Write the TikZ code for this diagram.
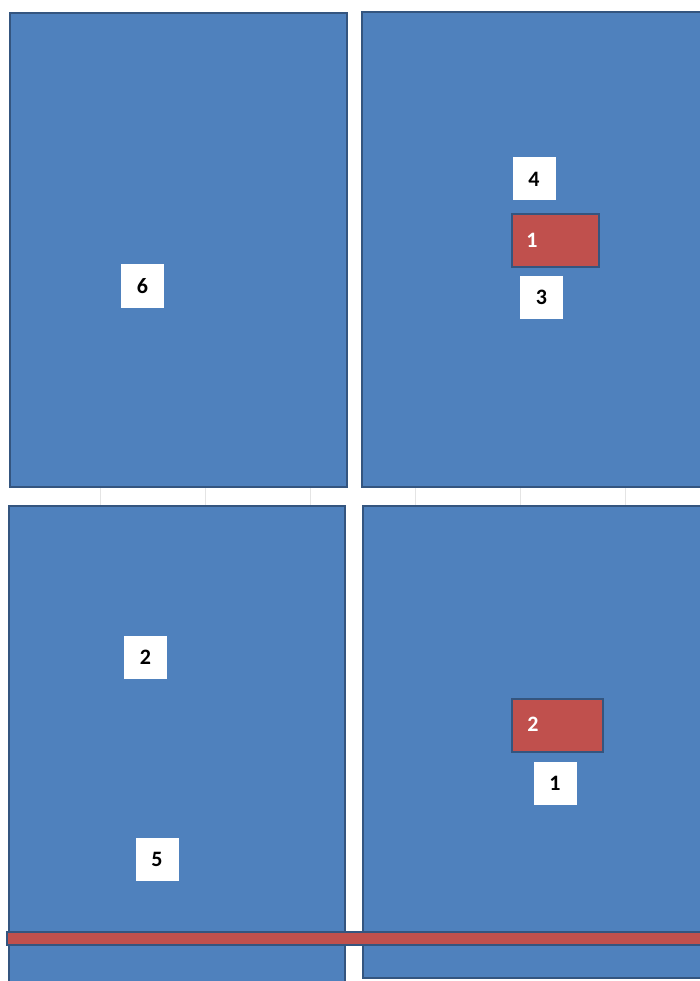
\documentclass[tikz,border=0pt]{standalone}
\usepackage{fontspec}
\setmainfont{Carlito}
\definecolor{panelblue}{HTML}{4F81BD}
\definecolor{paneledge}{HTML}{34557F}
\definecolor{barred}{HTML}{C0504D}
\definecolor{gridgray}{HTML}{E4E4E4}
\begin{document}
\begin{tikzpicture}[x=1pt,y=-1pt,
  panel/.style={draw=paneledge,fill=panelblue,line width=2pt},
  redbox/.style={draw=paneledge,fill=barred,line width=2pt},
  label/.style={fill=white,draw=none,inner sep=0pt,minimum width=43pt,minimum height=43pt,font=\fontsize{22}{22}\selectfont\bfseries,text=black},
  redtext/.style={font=\fontsize{22}{22}\selectfont\bfseries,text=white,inner sep=0pt}]
\useasboundingbox (0,0) rectangle (699,981);
\fill[white] (0,0) rectangle (699,981);
% faint spreadsheet grid in gaps
\foreach \gx in {100,205,310,415,520,625}
  \draw[gridgray,line width=0.6pt] (\gx,488) -- (\gx,506);
% panels
\draw[panel] (10,13) rectangle (347,487) node[coordinate] (tl) {};
\draw[panel] (362,12) rectangle (702,487) node[coordinate] (tr) {};
\draw[panel] (9,506) rectangle (345,983) node[coordinate] (bl) {};
\draw[panel] (363,506) rectangle (702,978) node[coordinate] (br) {};
% red strip
\draw[redbox,line width=1.5pt] (7,932) rectangle (705,945) node[coordinate] (strip) {};
% red boxes
\node[redbox,minimum width=87pt,minimum height=53pt,inner sep=0pt] (r1) at (555.5,240.5) {};
\node[redtext] (r1t) at (532,240) {1};
\node[redbox,minimum width=91pt,minimum height=53pt,inner sep=0pt] (r2) at (557.5,725.5) {};
\node[redtext] (r2t) at (533,724) {2};
% white labels
\node[label] (n6) at (142.5,286) {6};
\node[label] (n4) at (534,179) {4};
\node[label] (n3) at (541.5,297.5) {3};
\node[label] (n2) at (145.5,657) {2};
\node[label] (n5) at (157,859) {5};
\node[label] (n1) at (555,783.5) {1};
\end{tikzpicture}
\end{document}
